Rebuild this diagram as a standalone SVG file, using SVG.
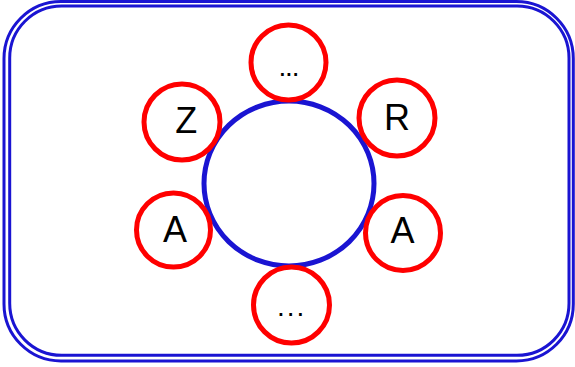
<svg xmlns="http://www.w3.org/2000/svg" width="575" height="367" viewBox="0 0 575 367">
<style>
.frame{fill:none;stroke:#1a14d2;stroke-width:3}
.hub{fill:none;stroke:#1a14d2;stroke-width:5}
.ring{fill:#ffffff;fill-opacity:0;stroke:#ff0000;stroke-width:5}
.lbl{font-family:"Liberation Sans",Arial,sans-serif;font-size:36px;fill:#000000;text-anchor:middle}
.dots{font-family:"Liberation Sans",Arial,sans-serif;font-size:28px;fill:#000000}
</style>
<rect width="575" height="367" fill="#ffffff"/>
<g id="frame">
<rect class="frame" x="4" y="1.5" width="569.3" height="359.5" rx="57" ry="57"/>
<rect class="frame" x="9.7" y="6" width="559.3" height="349.3" rx="52" ry="52"/>
</g>
<g id="connectors"></g>
<g id="hub">
<ellipse class="hub" cx="289" cy="183.5" rx="85" ry="82.5"/>
</g>
<g id="node-top">
<circle class="ring" cx="288.5" cy="62.5" r="37.5"/>
<text class="dots" x="278.4 285.1 291.8" y="76.4">...</text>
</g>
<g id="node-z">
<circle class="ring" cx="182" cy="122" r="38"/>
<text class="lbl" x="186.3" y="133">Z</text>
</g>
<g id="node-r">
<circle class="ring" cx="397" cy="118" r="38"/>
<text class="lbl" x="397" y="129.5">R</text>
</g>
<g id="node-a-left">
<circle class="ring" cx="173.5" cy="230" r="37"/>
<text class="lbl" x="175" y="242">A</text>
</g>
<g id="node-a-right">
<circle class="ring" cx="403" cy="233" r="37.5"/>
<text class="lbl" x="402.5" y="243">A</text>
</g>
<g id="node-bottom">
<circle class="ring" cx="291.5" cy="305" r="38"/>
<text class="dots" x="277.1 286.8 296.4" y="315.7">...</text>
</g>
</svg>
